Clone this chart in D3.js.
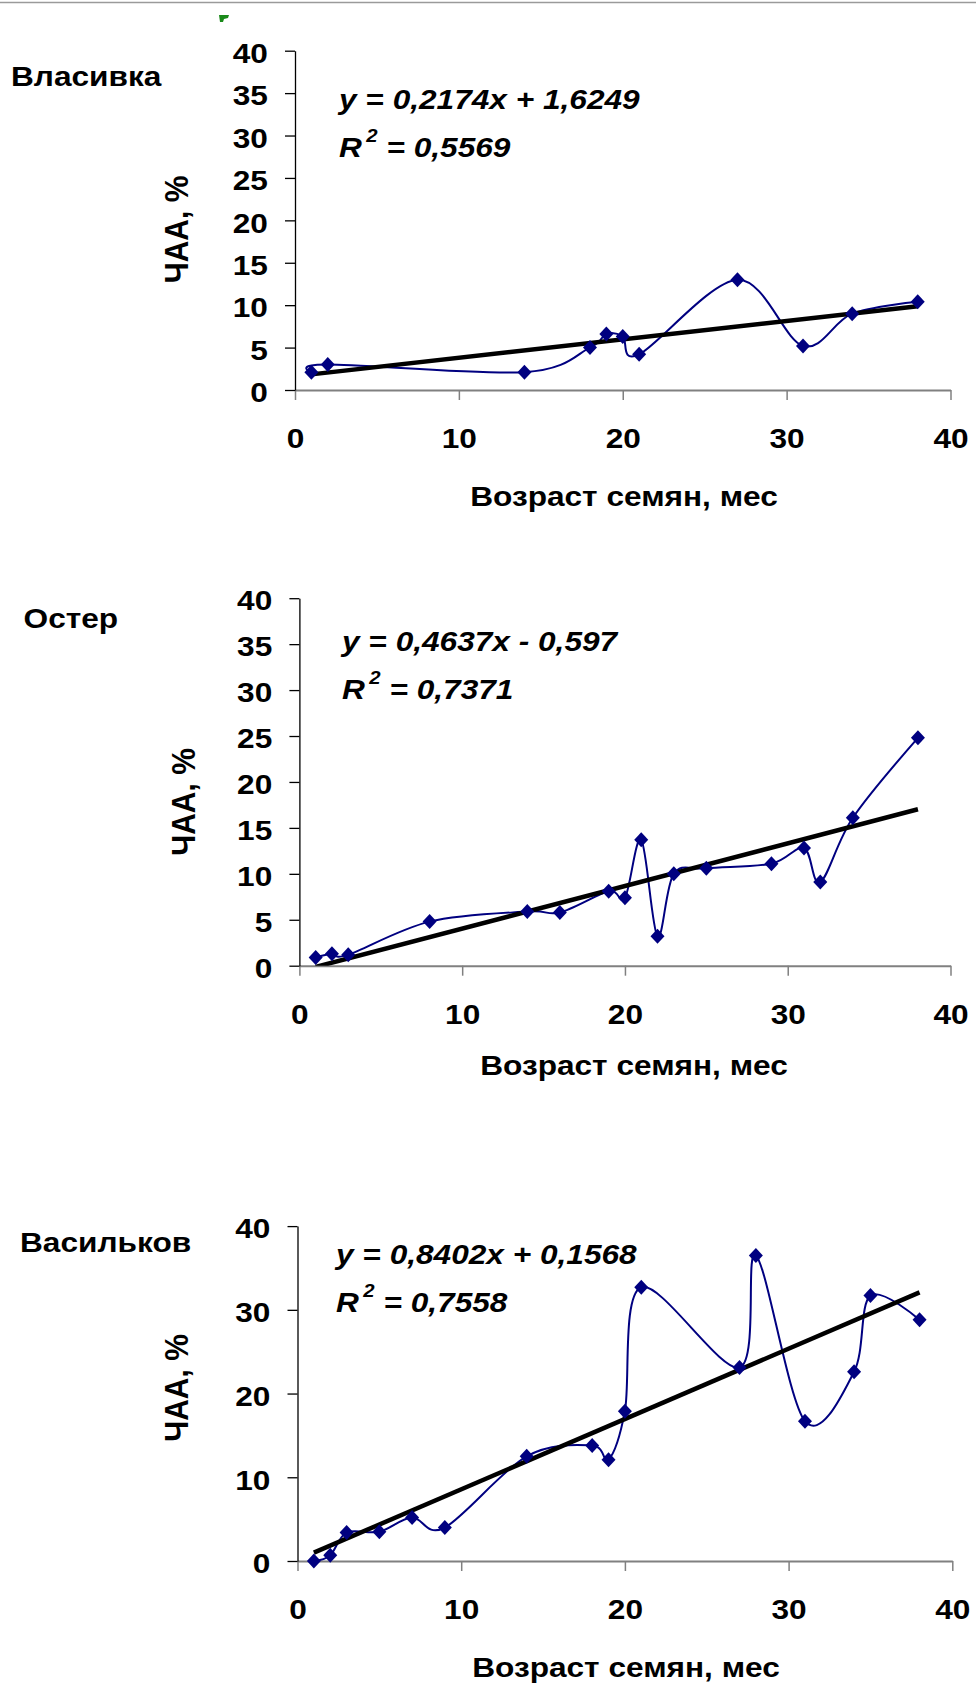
<!DOCTYPE html>
<html>
<head>
<meta charset="utf-8">
<script src="https://cdn.jsdelivr.net/npm/d3@7"></script>
<style>
  body { margin: 0; background: #fff; }
  text { font-family: Arial, "Liberation Sans", sans-serif; font-weight: bold; fill: #000; }
</style>
</head>
<body>
<svg id="drawing_region" width="976" height="1685"></svg>
<script>
// Власивка
var ageVl = [1, 2, 14, 18, 19, 20, 21, 27, 31, 34, 38];
var chaaVl = [2.1, 3.0, 2.1, 5.0, 6.6, 6.3, 4.2, 13.0, 5.2, 9.0, 10.4];
// Остер
var ageOs = [1, 2, 3, 8, 14, 16, 19, 20, 21, 22, 23, 25, 29, 31, 32, 34, 38];
var chaaOs = [0.9, 1.3, 1.2, 4.8, 5.9, 5.8, 8.1, 7.4, 13.7, 3.2, 10.0, 10.6, 11.1, 12.8, 9.1, 16.1, 24.8];
// Васильков
var ageVs = [1, 2, 3, 5, 7, 9, 14, 18, 19, 20, 21, 27, 28, 31, 34, 35, 38];
var chaaVs = [0, 0.7, 3.4, 3.5, 5.2, 4.0, 12.5, 13.8, 12.1, 17.9, 32.7, 23.1, 36.5, 16.7, 22.6, 31.7, 28.8];

var titles = ["Власивка", "Остер", "Васильков"];
var slopes = [0.2174, 0.4637, 0.8402];
var intercepts = [1.6249, -0.597, 0.1568];
var eqLabels = ["y = 0,2174x + 1,6249", "y = 0,4637x - 0,597", "y = 0,8402x + 0,1568"];
var r2Labels = ["0,5569", "0,7371", "0,7558"];
var xTicks = [0, 10, 20, 30, 40];
var yTicksFine = [0, 5, 10, 15, 20, 25, 30, 35, 40];
var yTicksCoarse = [0, 10, 20, 30, 40];
var xLabel = "Возраст семян, мес";
var yLabel = "ЧАА, %";

var SX = 1.13; // reference text is a bit wider than Arial

var svg = d3.select('#drawing_region');
svg.append('rect').attr('width', 976).attr('height', 1685).attr('fill', '#fff');

// thin frame line at the very top and a small green mark
svg.append('line')
    .attr('x1', 0).attr('x2', 976).attr('y1', 2.5).attr('y2', 2.5)
    .attr('stroke', '#9a9a9a').attr('stroke-width', 1.5);
svg.append('path')
    .attr('d', 'M219,15 L229,15 L228,18 L224,19 L223,22 L220,22 Z')
    .attr('fill', '#1a8a1a');

var charts = [
    {ages: ageVl, vals: chaaVl, yTicks: yTicksFine,
     x0: 295, x1: 950.5, yTop: 50.7, yBot: 390,
     title: [11, 86], ylab: [188, 229.5], xlab: [624, 506], eq: [339, 109], r2: [339, 157]},
    {ages: ageOs, vals: chaaOs, yTicks: yTicksFine,
     x0: 299.4, x1: 950.5, yTop: 598.2, yBot: 965.7,
     title: [23.6, 628], ylab: [195, 802], xlab: [634, 1075], eq: [342, 651], r2: [342, 699]},
    {ages: ageVs, vals: chaaVs, yTicks: yTicksCoarse,
     x0: 297.5, x1: 952.3, yTop: 1226.1, yBot: 1561,
     title: [20, 1252], ylab: [188, 1388], xlab: [626, 1677], eq: [336, 1264], r2: [336, 1312]}
];

function stretchedText(g, x, y, str, size) {
    return g.append('text')
        .attr('transform', `translate(${x},${y}) scale(${SX},1)`)
        .style('font-size', size + 'px')
        .text(str);
}

var diamond = 'M0,-7.5L7,0L0,7.5L-7,0Z';

charts.forEach((c, i) => {
    var g = svg.append('g');
    var x = d3.scaleLinear().domain([0, 40]).range([c.x0, c.x1]);
    var y = d3.scaleLinear().domain([0, 40]).range([c.yBot, c.yTop]);

    // x axis (grey)
    var xa = g.append('g')
        .attr('transform', `translate(0,${c.yBot})`)
        .call(d3.axisBottom(x).tickValues(xTicks).tickSize(10).tickSizeOuter(0).tickPadding(28));
    xa.select('.domain').attr('stroke', '#808080').attr('stroke-width', 2);
    xa.selectAll('.tick line').attr('stroke', '#808080').attr('stroke-width', 1.5);
    xa.selectAll('.tick text')
        .attr('transform', `scale(${SX},1)`)
        .style('font-size', '28px').style('font-family', 'Arial, "Liberation Sans", sans-serif')
        .style('font-weight', 'bold').attr('fill', '#000');

    // y axis (black)
    var ya = g.append('g')
        .attr('transform', `translate(${c.x0},0)`)
        .call(d3.axisLeft(y).tickValues(c.yTicks).tickSize(10).tickSizeOuter(0).tickPadding(14));
    ya.select('.domain').attr('stroke', '#000').attr('stroke-width', 1.3);
    ya.selectAll('.tick line').attr('stroke', '#000').attr('stroke-width', 1.3);
    ya.selectAll('.tick text')
        .attr('transform', `scale(${SX},1)`)
        .attr('dy', '0.42em')
        .style('font-size', '28px').style('font-family', 'Arial, "Liberation Sans", sans-serif')
        .style('font-weight', 'bold').attr('fill', '#000');

    // smoothed series line
    var pts = c.ages.map((a, k) => [a, c.vals[k]]);
    var line = d3.line()
        .x(d => x(d[0]))
        .y(d => y(d[1]))
        .curve(d3.curveCardinal.tension(0));
    g.append('path')
        .datum(pts)
        .attr('d', line)
        .attr('fill', 'none')
        .attr('stroke', '#000080')
        .attr('stroke-width', 2);

    // linear trendline, clipped to the plot area
    var clipId = 'clip' + i;
    g.append('clipPath').attr('id', clipId)
        .append('rect')
        .attr('x', c.x0).attr('y', c.yTop)
        .attr('width', c.x1 - c.x0).attr('height', c.yBot - c.yTop);
    var xMin = d3.min(c.ages), xMax = d3.max(c.ages);
    var trend = [xMin, xMax].map(a => [a, slopes[i] * a + intercepts[i]]);
    g.append('path')
        .datum(trend)
        .attr('d', d3.line().x(d => x(d[0])).y(d => y(d[1])))
        .attr('clip-path', `url(#${clipId})`)
        .attr('fill', 'none')
        .attr('stroke', '#000')
        .attr('stroke-width', 4.5);

    // markers
    g.selectAll('.mk')
        .data(pts)
        .enter()
        .append('path')
        .attr('class', 'mk')
        .attr('d', diamond)
        .attr('transform', d => `translate(${x(d[0])},${y(d[1])})`)
        .attr('fill', '#000080');

    // texts
    stretchedText(g, c.title[0], c.title[1], titles[i], 28);
    stretchedText(g, c.xlab[0], c.xlab[1], xLabel, 28).attr('text-anchor', 'middle');
    g.append('text')
        .attr('transform', `translate(${c.ylab[0]},${c.ylab[1]}) scale(${SX},1) rotate(-90)`)
        .attr('text-anchor', 'middle')
        .style('font-size', '30px')
        .text(yLabel);

    stretchedText(g, c.eq[0], c.eq[1], eqLabels[i], 28).style('font-style', 'italic');
    var r2 = stretchedText(g, c.r2[0], c.r2[1], 'R', 28).style('font-style', 'italic');
    r2.append('tspan').attr('dx', 4).attr('dy', -15).style('font-size', '18px').text('2');
    r2.append('tspan').attr('dy', 15).text(' = ' + r2Labels[i]);
});
</script>
</body>
</html>
